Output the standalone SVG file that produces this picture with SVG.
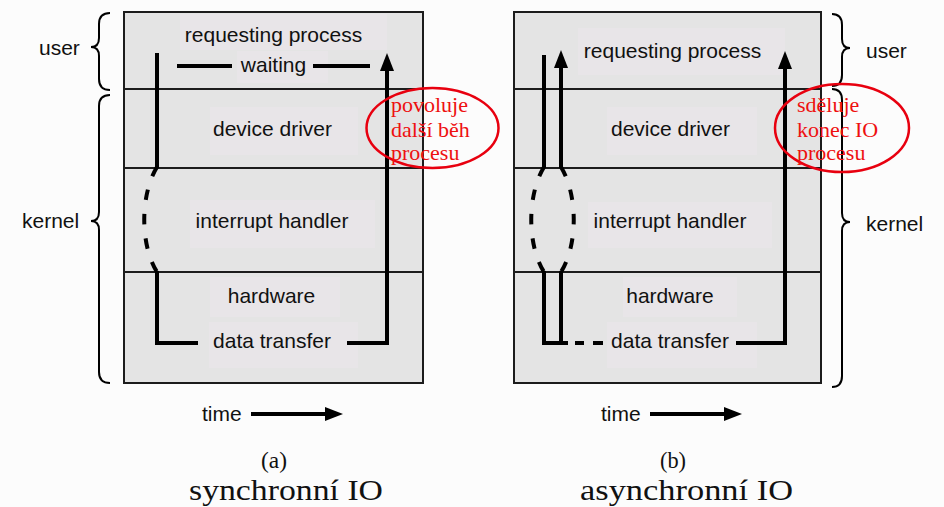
<svg xmlns="http://www.w3.org/2000/svg" width="944" height="507" viewBox="0 0 944 507">
  <style>
    .panel { fill: #e4e4e4; stroke: #1c1c1c; stroke-width: 2; }
    .sep { stroke: #1c1c1c; stroke-width: 2; }
    .lbg { fill: #e8e5e8; }
    .lbl { font-family: "Liberation Sans", Arial, sans-serif; font-size: 21px; fill: #111; text-anchor: middle; }
    .side { font-family: "Liberation Sans", Arial, sans-serif; font-size: 21px; fill: #111; }
    .flow { fill: none; stroke: #000; stroke-width: 4; }
    .dash { fill: none; stroke: #000; stroke-width: 4; stroke-dasharray: 10.5 14; }
    .brace { fill: none; stroke: #000; stroke-width: 2; }
    .note { fill: none; stroke: #e8000f; stroke-width: 2.5; }
    .ntxt { font-family: "Liberation Serif", "Times New Roman", serif; font-size: 22px; fill: #ee1010; }
    .cap { font-family: "Liberation Serif", "Times New Roman", serif; fill: #111; text-anchor: middle; }
  </style>
  <defs>
    <marker id="head" markerUnits="userSpaceOnUse" viewBox="0 0 18 14" markerWidth="18" markerHeight="14" refX="4" refY="7" orient="auto">
      <path d="M0,0 L18,7 L0,14 z" fill="#000"/>
    </marker>
  </defs>

  <rect x="0" y="0" width="944" height="507" fill="#fcfcfc"/>

  <!-- (a) synchronous panel -->
  <g id="panel-a">
    <rect class="panel" x="124" y="12" width="299" height="371"/>
    <line class="sep" x1="124" y1="89" x2="423" y2="89"/>
    <line class="sep" x1="124" y1="168" x2="423" y2="168"/>
    <line class="sep" x1="124" y1="272" x2="423" y2="272"/>
  </g>
  <g id="a-requesting">
    <rect class="lbg" x="180" y="14" width="207" height="36"/>
    <text class="lbl" x="273.5" y="42">requesting process</text>
  </g>
  <g id="a-waiting">
    <rect class="lbg" x="237" y="51" width="91" height="32"/>
    <text class="lbl" x="273.5" y="72">waiting</text>
  </g>
  <g id="a-driver">
    <rect class="lbg" x="210" y="107" width="148" height="48"/>
    <text class="lbl" x="272.5" y="136">device driver</text>
  </g>
  <g id="a-interrupt">
    <rect class="lbg" x="190" y="200" width="185" height="48"/>
    <text class="lbl" x="272" y="228">interrupt handler</text>
  </g>
  <g id="a-hardware">
    <rect class="lbg" x="210" y="277" width="130" height="40"/>
    <text class="lbl" x="271.5" y="303">hardware</text>
  </g>
  <g id="a-transfer">
    <rect class="lbg" x="209" y="322" width="149" height="46"/>
    <text class="lbl" x="272" y="348">data transfer</text>
  </g>

  <!-- (b) asynchronous panel -->
  <g id="panel-b">
    <rect class="panel" x="514" y="12" width="307" height="371"/>
    <line class="sep" x1="514" y1="89" x2="821" y2="89"/>
    <line class="sep" x1="514" y1="168" x2="821" y2="168"/>
    <line class="sep" x1="514" y1="272" x2="821" y2="272"/>
  </g>
  <g id="b-requesting">
    <rect class="lbg" x="578" y="28" width="207" height="47"/>
    <text class="lbl" x="672.5" y="58">requesting process</text>
  </g>
  <g id="b-driver">
    <rect class="lbg" x="607" y="107" width="150" height="48"/>
    <text class="lbl" x="670.5" y="136">device driver</text>
  </g>
  <g id="b-interrupt">
    <rect class="lbg" x="588" y="202" width="184" height="46"/>
    <text class="lbl" x="670" y="228">interrupt handler</text>
  </g>
  <g id="b-hardware">
    <rect class="lbg" x="623" y="277" width="114" height="40"/>
    <text class="lbl" x="670" y="303">hardware</text>
  </g>
  <g id="b-transfer">
    <rect class="lbg" x="607" y="322" width="150" height="46"/>
    <text class="lbl" x="670" y="348">data transfer</text>
  </g>

  <!-- control flow lines -->
  <g id="connectors">
    <!-- (a) -->
    <line class="flow" x1="177" y1="66" x2="232" y2="66"/>
    <line class="flow" x1="313" y1="66" x2="370" y2="66"/>
    <path class="flow" d="M157,53 L157,168"/>
    <path class="dash" d="M157,167 C140,195 140,245 157,272"/>
    <path class="flow" d="M157,271 L157,343 L198,343"/>
    <path class="flow" d="M347,343 L387,343 L387,67" marker-end="url(#head)"/>

    <!-- (b) -->
    <path class="flow" d="M544,55 L544,168"/>
    <path class="flow" d="M561,168 L561,64" marker-end="url(#head)"/>
    <path class="dash" d="M544,167 C527,195 527,245 544,272"/>
    <path class="dash" d="M561,167 C578,195 578,245 561,272"/>
    <path class="flow" d="M544,271 L544,343 L568,343"/>
    <path class="flow" d="M561,271 L561,343"/>
    <line class="flow" x1="575" y1="343" x2="584" y2="343"/>
    <line class="flow" x1="593" y1="343" x2="603" y2="343"/>
    <path class="flow" d="M736,343 L785,343 L785,65" marker-end="url(#head)"/>

    <!-- time arrows -->
    <line class="flow" x1="251" y1="414" x2="329" y2="414" marker-end="url(#head)"/>
    <line class="flow" x1="650" y1="414" x2="728" y2="414" marker-end="url(#head)"/>
  </g>

  <!-- braces and side labels -->
  <g id="left-user">
    <path class="brace" d="M110,13 Q99,13 99,24 L99,38 Q99,47 91,47 Q99,47 99,56 L99,79 Q99,90 110,90"/>
    <text class="side" x="39" y="55">user</text>
  </g>
  <g id="left-kernel">
    <path class="brace" d="M110,95 Q99,95 99,106 L99,212 Q99,221 91,221 Q99,221 99,230 L99,372 Q99,383 110,383"/>
    <text class="side" x="22" y="228">kernel</text>
  </g>
  <g id="right-user">
    <path class="brace" d="M832,14 Q842,14 842,25 L842,39 Q842,48 850,48 Q842,48 842,57 L842,75 Q842,86 832,86"/>
    <text class="side" x="866" y="58">user</text>
  </g>
  <g id="right-kernel">
    <path class="brace" d="M832,89 Q842,89 842,100 L842,213 Q842,222 850,222 Q842,222 842,231 L842,376 Q842,387 832,387"/>
    <text class="side" x="866" y="231">kernel</text>
  </g>

  <g id="time-a">
    <text class="side" x="202" y="421">time</text>
  </g>
  <g id="time-b">
    <text class="side" x="601" y="421">time</text>
  </g>

  <!-- annotations -->
  <g id="note-a">
    <ellipse class="note" cx="432.5" cy="128" rx="66" ry="40"/>
    <text class="ntxt" x="391" y="112">povoluje</text>
    <text class="ntxt" x="391" y="136.5">další běh</text>
    <text class="ntxt" x="391" y="160">procesu</text>
  </g>
  <g id="note-b">
    <ellipse class="note" cx="842" cy="128" rx="67" ry="44"/>
    <text class="ntxt" x="797" y="112">sděluje</text>
    <text class="ntxt" x="797" y="136.5">konec IO</text>
    <text class="ntxt" x="797" y="160">procesu</text>
  </g>

  <!-- captions -->
  <g id="caption-a">
    <text class="cap" x="274" y="468" font-size="24" textLength="26" lengthAdjust="spacingAndGlyphs">(a)</text>
    <text class="cap" x="286" y="500" font-size="29" textLength="194" lengthAdjust="spacingAndGlyphs">synchronní IO</text>
  </g>
  <g id="caption-b">
    <text class="cap" x="673" y="468" font-size="24" textLength="26" lengthAdjust="spacingAndGlyphs">(b)</text>
    <text class="cap" x="686.5" y="500" font-size="29" textLength="213" lengthAdjust="spacingAndGlyphs">asynchronní IO</text>
  </g>
</svg>
